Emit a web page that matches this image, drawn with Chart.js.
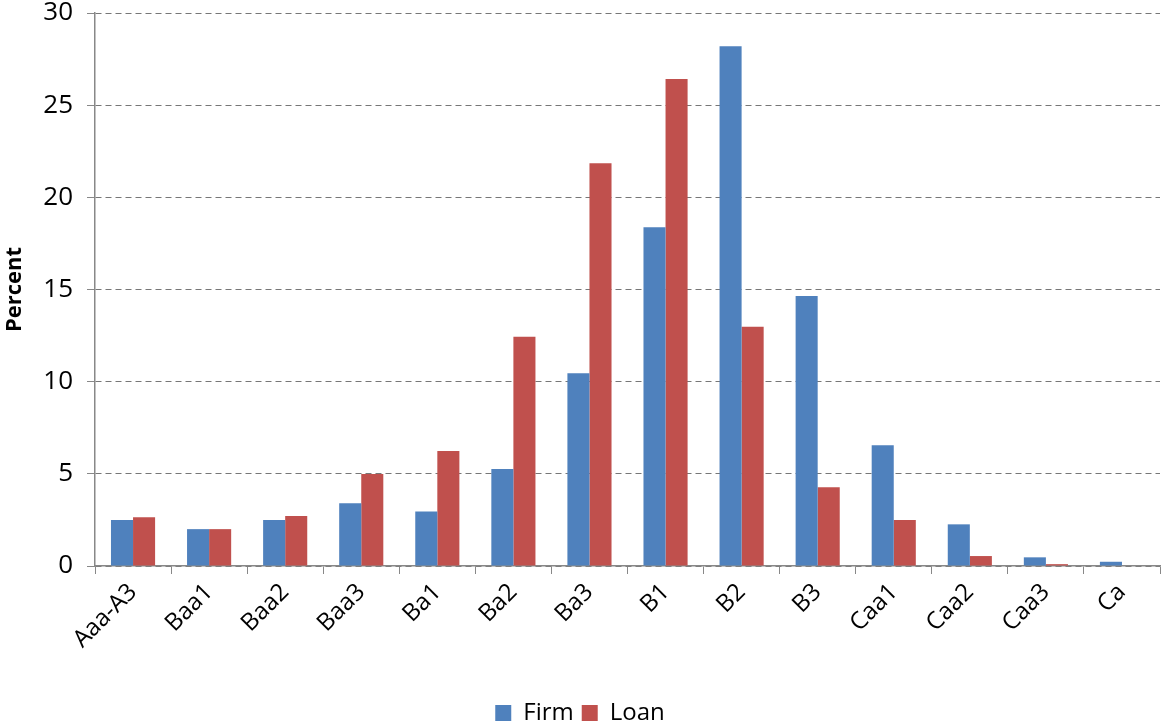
<!DOCTYPE html>
<html>
<head>
<meta charset="utf-8">
<script src="https://cdn.jsdelivr.net/npm/chart.js@4/dist/chart.umd.min.js"></script>
<style>
  html, body { margin: 0; padding: 0; background: #fff; }
  canvas { display: block; }
</style>
</head>
<body>
<canvas id="ratingChart" width="1165" height="727"></canvas>
<script>
// Rating distribution data
const ratings = ['Aaa-A3', 'Baa1', 'Baa2', 'Baa3', 'Ba1', 'Ba2', 'Ba3', 'B1', 'B2', 'B3', 'Caa1', 'Caa2', 'Caa3', 'Ca'];
const firmValues = [2.5, 2.0, 2.5, 3.4, 2.95, 5.26, 10.45, 18.38, 28.2, 14.65, 6.55, 2.26, 0.47, 0.23];
const loanValues = [2.64, 2.0, 2.71, 4.99, 6.24, 12.44, 21.85, 26.42, 12.98, 4.27, 2.5, 0.54, 0.1, 0];
const yTicks = [0, 5, 10, 15, 20, 25, 30];

const fontFamily = '"Open Sans", "DejaVu Sans", sans-serif';

new Chart(document.getElementById('ratingChart'), {
    type: 'bar',
    data: {
        labels: ratings,
        datasets: [{
            label: 'Firm',
            data: firmValues,
            backgroundColor: '#4F81BD',
            borderWidth: 0
        }, {
            label: 'Loan',
            data: loanValues,
            backgroundColor: '#C0504D',
            borderWidth: 0
        }]
    },
    options: {
        responsive: false,
        animation: false,
        devicePixelRatio: 1,
        categoryPercentage: 0.58,
        barPercentage: 1.0,
        layout: {
            padding: { top: 13, right: 5, left: 0, bottom: -8 }
        },
        plugins: {
            legend: {
                position: 'bottom',
                labels: {
                    color: '#000',
                    font: { family: fontFamily, size: 24 },
                    boxWidth: 16,
                    boxHeight: 16,
                    padding: 8
                }
            },
            tooltip: { enabled: false }
        },
        scales: {
            x: {
                grid: {
                    drawOnChartArea: false,
                    color: '#888',
                    tickLength: 8
                },
                border: { color: '#888', width: 1.5 },
                ticks: {
                    color: '#000',
                    font: { family: fontFamily, size: 24 },
                    minRotation: 45,
                    maxRotation: 45,
                    autoSkip: false,
                    padding: 4
                },
                afterFit: function(scale) {
                    scale.height = 127;
                }
            },
            y: {
                min: 0,
                max: 30,
                afterBuildTicks: function(scale) {
                    scale.ticks = yTicks.map(v => ({ value: v }));
                },
                grid: {
                    color: '#777',
                    lineWidth: 1,
                    tickLength: 8,
                    tickBorderDash: [],
                    tickColor: '#888'
                },
                border: { color: '#888', width: 1.5, dash: [6, 4] },
                ticks: {
                    color: '#000',
                    font: { family: fontFamily, size: 26 },
                    padding: 14
                },
                title: {
                    display: true,
                    text: 'Percent',
                    color: '#000',
                    font: { family: fontFamily, size: 22, weight: 'bold' },
                    padding: { top: 2, bottom: 0 }
                },
                afterFit: function(scale) {
                    scale.width = 95;
                    // tick padding would otherwise push the plot top down
                    scale.paddingTop = 0;
                }
            }
        }
    }
});
</script>
</body>
</html>
